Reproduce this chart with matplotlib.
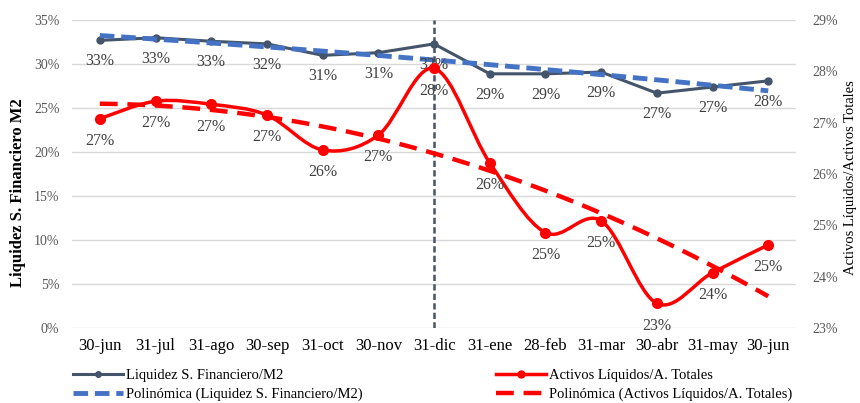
## Liquidez del sistema financiero: dos ejes con lineas de tendencia
import numpy as np
import matplotlib.pyplot as plt
from matplotlib.path import Path
from matplotlib.patches import PathPatch
from matplotlib.lines import Line2D

## DATOS
fechas = ['30-jun', '31-jul', '31-ago', '30-sep', '31-oct', '30-nov', '31-dic',
          '31-ene', '28-feb', '31-mar', '30-abr', '31-may', '30-jun']
liquidez_m2 = [32.7, 33.0, 32.6, 32.3, 31.0, 31.3, 32.3, 28.9, 28.9, 29.1, 26.7, 27.4, 28.1]
activos_liq = [27.08, 27.42, 27.36, 27.15, 26.47, 26.76, 28.06, 26.22, 24.86, 25.09, 23.48, 24.08, 24.62]
ticks_izq = [0, 5, 10, 15, 20, 25, 30, 35]
ticks_der = [23, 24, 25, 26, 27, 28, 29]

## ESTILO
plt.rcParams['font.family'] = ['Liberation Serif', 'DejaVu Serif']
gris_texto = '#595959'
gris_etiq = '#404040'
azul_osc = '#44546A'
azul_tend = '#4472C4'
rojo = '#FF0000'


def curva_suave(x, y):
    '''Devuelve un Path con curvas Bezier que pasa por todos los puntos (como Excel)'''
    pts = np.column_stack([x, y]).astype(float)
    verts = [pts[0]]
    codes = [Path.MOVETO]
    n = len(pts)
    for i in range(n - 1):
        p0 = pts[i - 1] if i > 0 else pts[i]
        p1 = pts[i]
        p2 = pts[i + 1]
        p3 = pts[i + 2] if i + 2 < n else pts[i + 1]
        c1 = p1 + (p2 - p0) / 6.0
        c2 = p2 - (p3 - p1) / 6.0
        verts += [c1, c2, p2]
        codes += [Path.CURVE4] * 3
    return Path(verts, codes)


x = np.arange(len(fechas))

fig = plt.figure(figsize=(8.6, 4.03), dpi=100)
ax1 = fig.add_axes([0.0837, 0.186, 0.842, 0.764])
ax2 = ax1.twinx()

## EJE IZQUIERDO: Liquidez S. Financiero/M2
ax1.set_ylim(0, 35)
ax1.set_xlim(-0.5, len(fechas) - 0.5)
ax1.set_yticks(ticks_izq)
ax1.set_yticklabels([str(t) + '%' for t in ticks_izq])
ax1.grid(axis='y', color='#D9D9D9', linewidth=1)
ax1.set_axisbelow(True)

coef_b = np.polyfit(x, liquidez_m2, 2)
xt = np.linspace(0, len(fechas) - 1, 100)
ax1.plot(x, liquidez_m2, color=azul_osc, linewidth=2.2, marker='o', markersize=5, zorder=3)
ax1.plot(xt, np.polyval(coef_b, xt), color=azul_tend, linewidth=3.5, dashes=(3, 1.4), zorder=4)
ax1.axvline(6, color=azul_osc, linewidth=1.8, dashes=(2.5, 1.3), zorder=5)

for xi, v in zip(x, liquidez_m2):
    ax1.annotate('%.0f%%' % v, (xi, v), xytext=(0, -15), textcoords='offset points',
                 ha='center', va='center', fontsize=11.5, color=gris_etiq, zorder=6)

## EJE DERECHO: Activos Liquidos/A. Totales
ax2.set_ylim(23, 29)
ax2.set_yticks(ticks_der)
ax2.set_yticklabels([str(t) + '%' for t in ticks_der])

coef_r = np.polyfit(x, activos_liq, 2)
ax2.plot(xt, np.polyval(coef_r, xt), color=rojo, linewidth=3.2, dashes=(4, 2.2), zorder=2)
ax2.add_patch(PathPatch(curva_suave(x, activos_liq), facecolor='none', edgecolor=rojo,
                        linewidth=2.5, zorder=3))
ax2.plot(x, activos_liq, linestyle='none', color=rojo, marker='o', markersize=7, zorder=4)

for xi, v in zip(x, activos_liq):
    ax2.annotate('%.0f%%' % v, (xi, v), xytext=(0, -16), textcoords='offset points',
                 ha='center', va='center', fontsize=11.5, color=gris_etiq, zorder=6)

## EJES, TEXTOS
for ax in (ax1, ax2):
    for s in ax.spines.values():
        s.set_visible(False)
    ax.tick_params(length=0, labelsize=10, labelcolor=gris_texto)
ax1.set_xticks(x)
ax1.set_xticklabels(fechas, fontsize=12, color='black')
ax1.tick_params(axis='x', pad=7)
ax1.tick_params(axis='y', pad=9)
ax2.tick_params(axis='y', pad=12)

ax1.set_ylabel('Liquidez S. Financiero M2', fontsize=12, fontweight='bold')
ax1.yaxis.set_label_coords(-0.064, 0.44)
ax2.set_ylabel('Activos Líquidos/Activos Totales', fontsize=10.5, rotation=90)
ax2.yaxis.set_label_coords(1.066, 0.49)

## LEYENDA
h_liq = Line2D([], [], color=azul_osc, linewidth=2.2, marker='o', markersize=4)
h_pliq = Line2D([], [], color=azul_tend, linewidth=3.5, dashes=(3, 1.4))
h_act = Line2D([], [], color=rojo, linewidth=2.5, marker='o', markersize=5)
h_pact = Line2D([], [], color=rojo, linewidth=3.2, dashes=(4, 2.2))

kw = dict(frameon=False, fontsize=10.5, handlelength=3.4, handletextpad=0.2,
          labelspacing=0.4, loc='upper left', borderaxespad=0, borderpad=0)
fig.legend([h_liq, h_pliq], ['Liquidez S. Financiero/M2', 'Polinómica (Liquidez S. Financiero/M2)'],
           bbox_to_anchor=(0.085, 0.085), **kw)
fig.legend([h_act, h_pact], ['Activos Líquidos/A. Totales', 'Polinómica (Activos Líquidos/A. Totales)'],
           bbox_to_anchor=(0.577, 0.085), **kw)

plt.savefig('out.png', dpi=100)
